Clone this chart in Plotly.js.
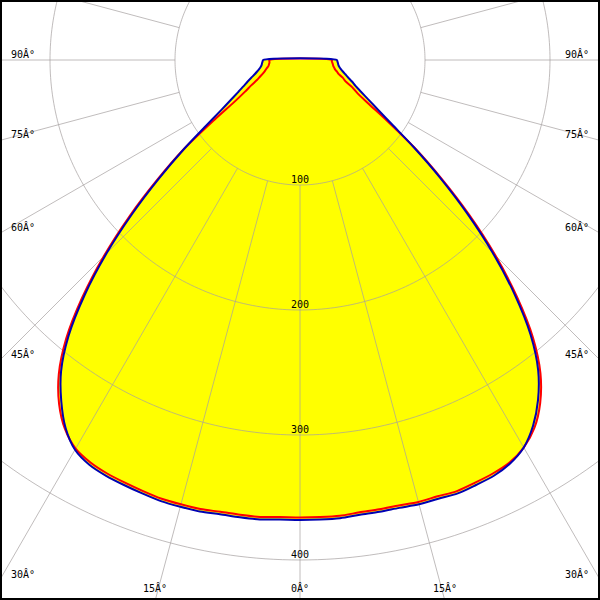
<!DOCTYPE html>
<html><head><meta charset="utf-8">
<script src="https://cdn.plot.ly/plotly-3.0.1.min.js"></script>
<style>
html,body{margin:0;padding:0;overflow:hidden;width:600px;height:600px;background:#fff;}
#plot{position:absolute;}
</style></head><body><div id="plot"></div>
<script>
// ---- data (candela values per gamma angle, 0..90 deg, step 2.5) ----
const angles = [0,2.5,5,7.5,10,12.5,15,17.5,20,22.5,25,27.5,30,32.5,35,37.5,40,42.5,45,47.5,50,52.5,55,57.5,60,62.5,65,67.5,70,72.5,75,77.5,80,82.5,85,87.5,90];
const blueRight = [368,368,368,367,367,367,368,368,369,368,367,364,358,347,332,313,287,254,218,181,146,115,90,74,63,55,49,45,41,38,35.5,33.5,32,31,30.5,30,29.5];
const blueLeft  = [368,368,369,369,369,370,370,370,369,368,367,365,360,349,333,314,288,255,219,182,147,117,92,75,64,56,50,45.5,41.5,38,35.5,33.5,32,31,30.5,30,29.5];
const redRight  = [366,366,366,365,365,365,366,366,367,366,365,363,358,349,335,316,290,257,221,184,148,116,86,65,53,47,40,37,33,31,29,28,27,26.5,26,25.5,25.5];
const redLeft   = [366,366,367,367,367,368,368,368,367,366,365,363,359,350,336,317,291,258,222,185,149,117,84,62,51,44,38,34.5,31.5,29.5,28,26.5,25.5,25,24.5,24.5,24.5];
const radialTicks = [100,200,300,400,500];
const radialLabels = ['100','200','300','400'];
const spokeAngles = [0,15,30,45,60,75,90,105,120,135,150,165,180,195,210,225,240,255,270,285,300,315,330,345];
const sideLabelAngles = [90,75,60,45,30];
const bottomLabelAngles = [-15,0,15];

// ---- geometry of the view ----
const VIEW = 600, CX = 300, CY = 60, PX_PER_UNIT = 1.25, W = 1400;
const RMAX = (W/2)/PX_PER_UNIT;
const offX = CX - W/2, offY = CY - W/2;
const div = document.getElementById('plot');
div.style.left = offX + 'px'; div.style.top = offY + 'px';
div.style.width = W + 'px'; div.style.height = W + 'px';
const px = x => (x - offX)/W;
const py = y => 1 - (y - offY)/W;

function fullCurve(left, right){
  return {
    theta: angles.slice().reverse().map(a => -a).concat(angles.slice(1)),
    r: left.slice().reverse().concat(right.slice(1))
  };
}
const blue = fullCurve(blueLeft, blueRight);
const red = fullCurve(redLeft, redRight);
function closed(c){ return {theta: c.theta.concat([c.theta[0]]), r: c.r.concat([c.r[0]])}; }

// grid
const gT = [], gR = [];
radialTicks.forEach(rv => { for (let t=0; t<=360; t+=1){ gT.push(t); gR.push(rv);} gT.push(null); gR.push(null); });
spokeAngles.forEach(a => { gT.push(a, a, null); gR.push(radialTicks[0], RMAX, null); });

const mono = "DejaVu Sans Mono, monospace";
const FILL = '#ffff00';
const SM = 0.8;
const traces = [
  {type:'scatterpolar', mode:'lines', theta: blue.theta, r: blue.r, fill:'toself', fillcolor:FILL, line:{width:0, color:'rgba(0,0,0,0)', shape:'spline', smoothing:SM}, hoverinfo:'skip'},
  {type:'scatterpolar', mode:'lines', theta: red.theta, r: red.r, fill:'toself', fillcolor:FILL, line:{width:0, color:'rgba(0,0,0,0)', shape:'spline', smoothing:SM}, hoverinfo:'skip'},
  {type:'scatterpolar', mode:'lines', theta: gT, r: gR, line:{width:1, color:'rgba(165,160,160,0.7)'}, hoverinfo:'skip', connectgaps:false},
  {type:'scatterpolar', mode:'lines', theta: closed(red).theta, r: closed(red).r, line:{width:2, color:'#ff0000', shape:'spline', smoothing:SM}, hoverinfo:'skip'},
  {type:'scatterpolar', mode:'lines', theta: closed(blue).theta, r: closed(blue).r, line:{width:2, color:'#0000b4', shape:'spline', smoothing:SM}, hoverinfo:'skip'},
  {type:'scatterpolar', mode:'text', theta: radialLabels.map(()=>0), r: radialLabels.map(Number), text: radialLabels, textposition:'top center', textfont:{family:mono, size:10, color:'#000'}, cliponaxis:false, hoverinfo:'skip'}
];

const deg = Math.PI/180;
const annotations = [];
sideLabelAngles.forEach(a => {
  const yEdge = CY + CX*Math.cos(a*deg)/Math.sin(a*deg);
  const txt = a + 'Â°';
  annotations.push({xref:'paper', yref:'paper', x:px(9), y:py(yEdge-6), xanchor:'left', yanchor:'middle', text:txt, showarrow:false, font:{family:mono, size:10, color:'#000'}});
  annotations.push({xref:'paper', yref:'paper', x:px(VIEW-9), y:py(yEdge-6), xanchor:'right', yanchor:'middle', text:txt, showarrow:false, font:{family:mono, size:10, color:'#000'}});
});
bottomLabelAngles.forEach(a => {
  const xEdge = CX + (VIEW-CY)*Math.tan(a*deg);
  annotations.push({xref:'paper', yref:'paper', x:px(xEdge), y:py(VIEW-12), xanchor:'center', yanchor:'middle', text:Math.abs(a)+'Â°', showarrow:false, font:{family:mono, size:10, color:'#000'}});
});

const layout = {
  width: W, height: W,
  margin:{l:0,r:0,t:0,b:0,pad:0},
  paper_bgcolor:'#fff',
  showlegend:false,
  polar:{
    domain:{x:[0,1], y:[0,1]},
    bgcolor:'#fff',
    radialaxis:{range:[0,RMAX], visible:false},
    angularaxis:{rotation:-90, direction:'counterclockwise', visible:false}
  },
  annotations: annotations,
  shapes:[{type:'rect', xref:'paper', yref:'paper', x0:px(1), x1:px(VIEW-1), y0:py(1), y1:py(VIEW-1), line:{color:'#000', width:2}, layer:'above'}]
};
Plotly.newPlot(div, traces, layout, {staticPlot:true, displayModeBar:false});
</script></body></html>
